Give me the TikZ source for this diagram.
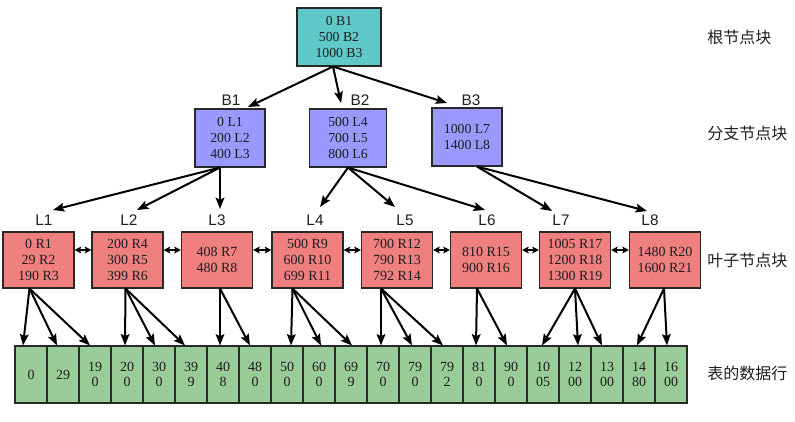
\documentclass[tikz,border=0pt]{standalone}
\usepackage{fontspec}
\setmainfont{Liberation Serif}
\setsansfont{Liberation Sans}
\newfontfamily\cjk{Noto Sans CJK SC}
\usetikzlibrary{arrows.meta,calc}
\definecolor{rootc}{RGB}{96,200,200}
\definecolor{branchc}{RGB}{153,153,255}
\definecolor{leafc}{RGB}{240,128,128}
\definecolor{datac}{RGB}{153,204,153}
\definecolor{edgec}{RGB}{40,40,40}
\definecolor{txtc}{RGB}{30,30,30}
\begin{document}
\begin{tikzpicture}[x=0.75pt,y=-0.75pt,
  box/.style={draw=edgec,line width=0.8pt,inner sep=0pt,align=center,text=txtc,font=\fontsize{10.3}{12}\selectfont},
  rootbox/.style={box,fill=rootc,minimum width=63pt,minimum height=43.5pt},
  branchbox/.style={box,fill=branchc,minimum height=43.5pt},
  leafbox/.style={box,fill=leafc,minimum width=53.25pt,minimum height=42pt,font=\fontsize{10.5}{12.2}\selectfont},
  cell/.style={draw=edgec,line width=0.8pt,fill=datac,inner sep=0pt,align=center,text=txtc,minimum width=24pt,minimum height=42.75pt,font=\fontsize{10.5}{11}\selectfont},
  lbl/.style={inner sep=0pt,text=txtc,font=\sffamily\fontsize{11.5}{13}\selectfont},
  side/.style={inner sep=0pt,anchor=west,text=txtc,font=\cjk\fontsize{12}{13}\selectfont},
  arr/.style={line width=1.5pt,-{Stealth[length=8.5pt,width=6.5pt,inset=1.5pt]}},
  dbl/.style={line width=1.3pt,{Stealth[length=5pt,width=5pt,inset=1pt]}-{Stealth[length=5pt,width=5pt,inset=1pt]}}
]
\useasboundingbox (0,0) rectangle (795,421);

% root and branch level
\node[rootbox] (root) at (339,37) {0 B1\\500 B2\\1000 B3};
\node[branchbox,minimum width=52.5pt] (B1) at (230,138) {0 L1\\200 L2\\400 L3};
\node[branchbox,minimum width=57.75pt] (B2) at (348,138) {500 L4\\700 L5\\800 L6};
\node[branchbox,minimum width=52.5pt] (B3) at (467,137) {1000 L7\\1400 L8};
\node[lbl] (lB1) at (231,100) {B1};
\node[lbl] (lB2) at (360,100) {B2};
\node[lbl] (lB3) at (471,100) {B3};

% leaf level
\node[leafbox] (L1) at (38.5,260) {0 R1\\29 R2\\190 R3};
\node[leafbox] (L2) at (127.5,260) {200 R4\\300 R5\\399 R6};
\node[leafbox] (L3) at (217,260) {408 R7\\480 R8};
\node[leafbox] (L4) at (307.5,260) {500 R9\\600 R10\\699 R11};
\node[leafbox] (L5) at (397,260) {700 R12\\790 R13\\792 R14};
\node[leafbox] (L6) at (486,260) {810 R15\\900 R16};
\node[leafbox] (L7) at (575,260) {1005 R17\\1200 R18\\1300 R19};
\node[leafbox] (L8) at (665,260) {1480 R20\\1600 R21};
\node[lbl] (lL1) at (44,220) {L1};
\node[lbl] (lL2) at (129,220) {L2};
\node[lbl] (lL3) at (217,220) {L3};
\node[lbl] (lL4) at (315,220) {L4};
\node[lbl] (lL5) at (405,220) {L5};
\node[lbl] (lL6) at (487,220) {L6};
\node[lbl] (lL7) at (561,220) {L7};
\node[lbl] (lL8) at (650,220) {L8};

% data rows
\foreach \t [count=\i] in {0,29,{19\\0},{20\\0},{30\\0},{39\\9},{40\\8},{48\\0},{50\\0},{60\\0},{69\\9},{70\\0},{79\\0},{79\\2},{81\\0},{90\\0},{10\\05},{12\\00},{13\\00},{14\\80},{16\\00}}
  \node[cell] (D\i) at (32*\i-1,374.5) {\t};

% side labels
\node[side] (s1) at (707,37) {根节点块};
\node[side] (s2) at (707,133) {分支节点块};
\node[side] (s3) at (707,260) {叶子节点块};
\node[side] (s4) at (707,373) {表的数据行};

% root -> branches
\coordinate (r0) at ($(root.south)+(-6,0)$);
\draw[arr] (r0) -- ($(lB1)+(17,7)$);
\draw[arr] (r0) -- ($(lB2)+(-19,3)$);
\draw[arr] (r0) -- ($(lB3)+(-24,3)$);

% branches -> leaves
\coordinate (b1) at ($(B1.south)+(-10,0)$);
\draw[arr] (b1) -- ($(lL1)+(9,-10)$);
\draw[arr] (b1) -- ($(lL2)+(8,-10)$);
\draw[arr] (b1) -- ($(lL3)+(3,-11)$);
\coordinate (b2) at (B2.south);
\draw[arr] (b2) -- ($(lL4)+(5,-13)$);
\draw[arr] (b2) -- ($(lL5)+(-10,-13)$);
\draw[arr] (b2) -- ($(lL6)+(-2,-10)$);
\coordinate (b3) at ($(B3.south)+(10,0)$);
\draw[arr] (b3) -- ($(lL7)+(-9,-9)$);
\draw[arr] (b3) -- ($(lL8)+(-3,-9)$);

% leaf links
\foreach \a/\b in {L1/L2,L2/L3,L3/L4,L4/L5,L5/L6,L6/L7,L7/L8}
  \draw[dbl] ($(\a.east)+(0,-10)$) -- ($(\b.west)+(0,-10)$);

% leaves -> rows
\coordinate (e1) at ($(L1.south)+(-9,0)$);
\draw[arr] (e1) -- ($(D1.north)+(-8,0)$);
\draw[arr] (e1) -- ($(D2.north)+(-6,0)$);
\draw[arr] (e1) -- ($(D3.north)+(-5,0)$);
\coordinate (e2) at ($(L2.south)+(-2,0)$);
\draw[arr] (e2) -- ($(D4.north)+(-2,0)$);
\draw[arr] (e2) -- ($(D5.north)+(-4,0)$);
\draw[arr] (e2) -- ($(D6.north)+(-6,0)$);
\coordinate (e3) at ($(L3.south)+(3,0)$);
\draw[arr] (e3) -- ($(D7.north)+(-3,0)$);
\draw[arr] (e3) -- ($(D8.north)+(-5,0)$);
\coordinate (e4) at ($(L4.south)+(-15,0)$);
\draw[arr] (e4) -- ($(D9.north)+(4,0)$);
\draw[arr] (e4) -- ($(D10.north)+(2,0)$);
\draw[arr] (e4) -- ($(D11.north)+(1,0)$);
\coordinate (e5) at ($(L5.south)+(-16,0)$);
\draw[arr] (e5) -- ($(D12.north)+(-2,0)$);
\draw[arr] (e5) -- ($(D13.north)+(-3,0)$);
\draw[arr] (e5) -- ($(D14.north)+(-4,0)$);
\coordinate (e6) at ($(L6.south)+(-9,0)$);
\draw[arr] (e6) -- ($(D15.north)+(-3,0)$);
\draw[arr] (e6) -- ($(D16.north)+(-4,0)$);
\coordinate (e7) at (L7.south);
\draw[arr] (e7) -- ($(D17.north)+(-1,0)$);
\draw[arr] (e7) -- ($(D18.north)+(3,0)$);
\draw[arr] (e7) -- ($(D19.north)+(-5,0)$);
\coordinate (e8) at ($(L8.south)+(-1,0)$);
\draw[arr] (e8) -- ($(D20.north)+(-2,0)$);
\draw[arr] (e8) -- ($(D21.north)+(-4,0)$);
\end{tikzpicture}
\end{document}
